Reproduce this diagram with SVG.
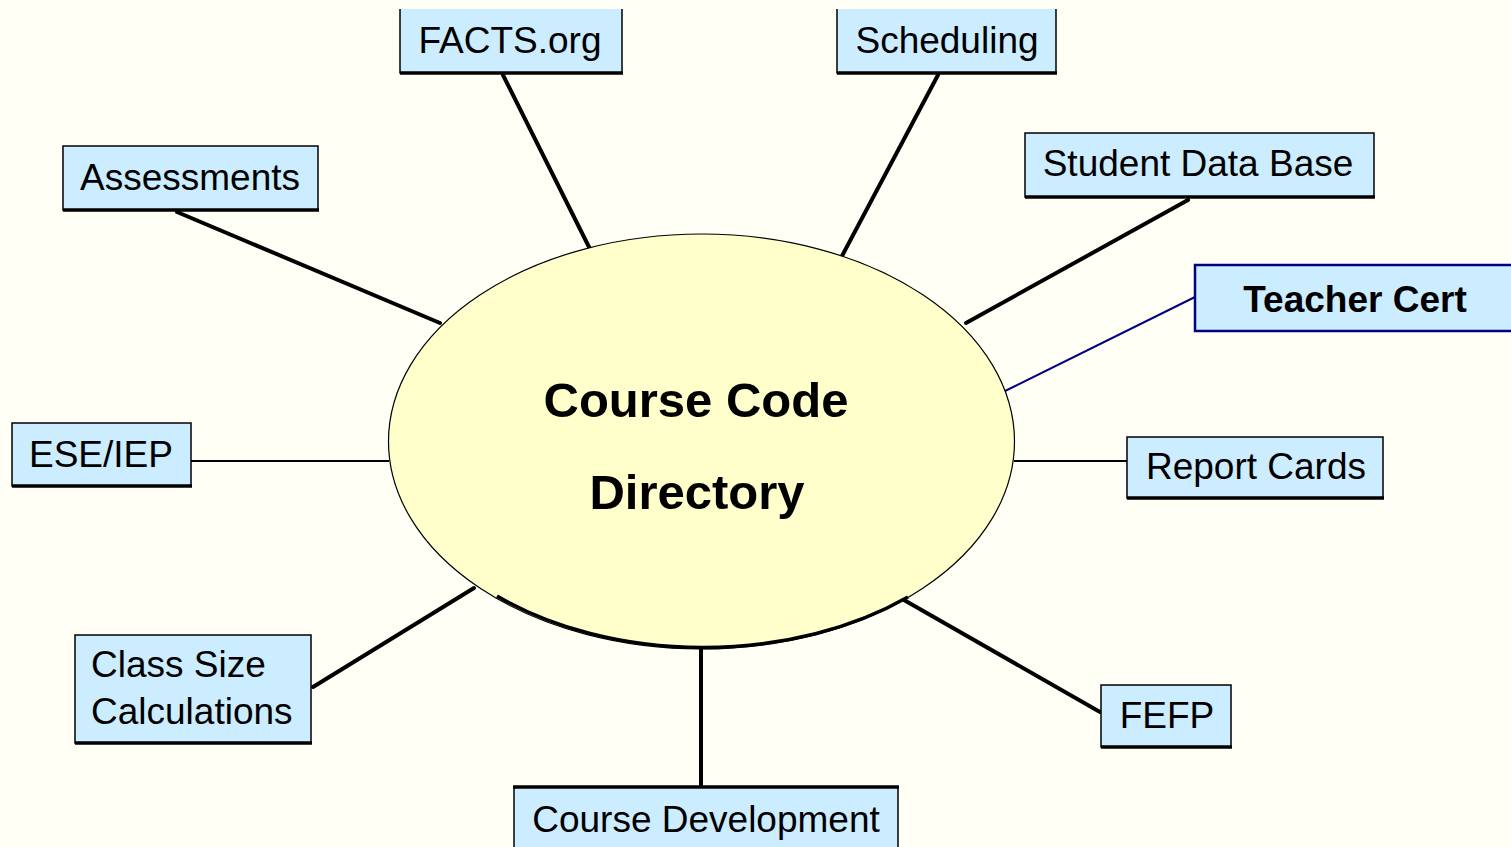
<svg xmlns="http://www.w3.org/2000/svg" width="1511" height="847" viewBox="0 0 1511 847">
<style>
.box{fill:#CCECFF;stroke:#000;stroke-width:1.5}
.sh{stroke:#000;stroke-width:3.5;fill:none}
.lbl{font-family:"Liberation Sans",Arial,sans-serif;font-size:37px;fill:#000;text-anchor:middle}
.big{font-family:"Liberation Sans",Arial,sans-serif;font-size:49px;font-weight:bold;fill:#000;text-anchor:middle}
.thick{stroke:#000;stroke-width:4;stroke-linecap:round;fill:none}
.thin{stroke:#000;stroke-width:2;fill:none}
</style>
<rect x="0" y="0" width="1511" height="847" fill="#FFFFF6"/>
<g id="connectors">
<line class="thick" x1="503" y1="75" x2="589" y2="247"/>
<line class="thick" x1="938" y1="75" x2="842" y2="256"/>
<line class="thick" x1="177" y1="212" x2="440" y2="323"/>
<line class="thick" x1="1188" y1="200" x2="966" y2="323"/>
<line x1="1195" y1="297" x2="1003" y2="392" stroke="#000080" stroke-width="2"/>
<line class="thin" x1="191" y1="461" x2="389" y2="461"/>
<line class="thin" x1="1014" y1="461" x2="1127" y2="461"/>
<line class="thick" x1="313" y1="687" x2="474" y2="588"/>
<line class="thick" x1="904" y1="600" x2="1100" y2="712"/>
<line class="thick" x1="701" y1="649" x2="701" y2="786"/>
</g>
<g id="center">
<ellipse cx="701.5" cy="441.5" rx="313" ry="207.5" fill="#FFFFCC" stroke="#000" stroke-width="1.2"/>
<path d="M497,596 A313,207.5 0 0 0 908,597" fill="none" stroke="#000" stroke-width="3.5"/>
<text class="big" x="696" y="417">Course Code</text>
<text class="big" x="697" y="509">Directory</text>
</g>
<g id="facts">
<rect x="400" y="9" width="222" height="64" fill="#CCECFF"/>
<path d="M400,9 V73 H622 V9" fill="none" stroke="#000" stroke-width="1.5"/>
<line class="sh" x1="400" y1="73" x2="623" y2="73"/>
<text class="lbl" x="510" y="53">FACTS.org</text>
</g>
<g id="scheduling">
<rect x="837" y="9" width="219" height="64" fill="#CCECFF"/>
<path d="M837,9 V73 H1056 V9" fill="none" stroke="#000" stroke-width="1.5"/>
<line class="sh" x1="837" y1="73" x2="1057" y2="73"/>
<text class="lbl" x="947" y="53">Scheduling</text>
</g>
<g id="assessments">
<rect class="box" x="63" y="146" width="255" height="64"/>
<line class="sh" x1="63" y1="210" x2="319" y2="210"/>
<text class="lbl" x="190" y="190">Assessments</text>
</g>
<g id="studentdb">
<rect class="box" x="1025" y="133" width="349" height="64"/>
<line class="sh" x1="1025" y1="197" x2="1375" y2="197"/>
<text class="lbl" x="1198" y="176">Student Data Base</text>
</g>
<g id="teachercert">
<rect x="1195" y="265" width="340" height="66" fill="#CCECFF" stroke="#000080" stroke-width="2.5"/>
<text class="lbl" x="1355" y="312" font-weight="bold">Teacher Cert</text>
</g>
<g id="eseiep">
<rect class="box" x="12" y="423" width="179" height="63"/>
<line class="sh" x1="12" y1="486" x2="192" y2="486"/>
<text class="lbl" x="101" y="467">ESE/IEP</text>
</g>
<g id="reportcards">
<rect class="box" x="1127" y="437" width="256" height="61"/>
<line class="sh" x1="1127" y1="498" x2="1384" y2="498"/>
<text class="lbl" x="1256" y="479">Report Cards</text>
</g>
<g id="classsize">
<rect class="box" x="75" y="635" width="236" height="108"/>
<line class="sh" x1="75" y1="743" x2="312" y2="743"/>
<text class="lbl" x="91" y="677" text-anchor="start" style="text-anchor:start">Class Size</text>
<text class="lbl" x="91" y="724" text-anchor="start" style="text-anchor:start">Calculations</text>
</g>
<g id="fefp">
<rect class="box" x="1101" y="685" width="130" height="62"/>
<line class="sh" x1="1101" y1="747" x2="1232" y2="747"/>
<text class="lbl" x="1167" y="728">FEFP</text>
</g>
<g id="coursedev">
<rect class="box" x="514" y="787" width="384" height="70"/>
<line class="sh" x1="513" y1="787" x2="899" y2="787"/>
<text class="lbl" x="706" y="832">Course Development</text>
</g>
</svg>
